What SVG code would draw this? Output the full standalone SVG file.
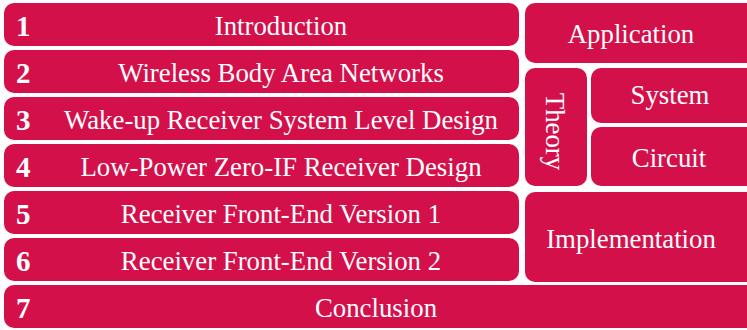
<svg xmlns="http://www.w3.org/2000/svg" width="747" height="330" viewBox="0 0 747 330">
  <style>
    .box { fill: #D4104B; }
    .t { font-family: "Liberation Serif", "Times New Roman", serif; font-size: 26.8px; fill: #ffffff; text-anchor: middle; }
    .n { font-family: "Liberation Serif", "Times New Roman", serif; font-size: 29px; font-weight: bold; fill: #ffffff; }
  </style>
  <rect width="747" height="330" fill="#ffffff"/>

  <!-- Chapter rows -->
  <g id="ch1"><rect class="box" x="4" y="3" width="515" height="43" rx="10"/><text class="n" x="16" y="36">1</text><text class="t" x="281" y="35">Introduction</text></g>
  <g id="ch2"><rect class="box" x="4" y="50" width="515" height="43" rx="10"/><text class="n" x="16" y="83">2</text><text class="t" x="281" y="82">Wireless Body Area Networks</text></g>
  <g id="ch3"><rect class="box" x="4" y="97" width="515" height="43" rx="10"/><text class="n" x="16" y="130">3</text><text class="t" x="281" y="129">Wake-up Receiver System Level Design</text></g>
  <g id="ch4"><rect class="box" x="4" y="144" width="515" height="43" rx="10"/><text class="n" x="16" y="177">4</text><text class="t" x="281" y="176">Low-Power Zero-IF Receiver Design</text></g>
  <g id="ch5"><rect class="box" x="4" y="191" width="515" height="43" rx="10"/><text class="n" x="16" y="224">5</text><text class="t" x="281" y="223">Receiver Front-End Version 1</text></g>
  <g id="ch6"><rect class="box" x="4" y="238" width="515" height="43" rx="10"/><text class="n" x="16" y="271">6</text><text class="t" x="281" y="270">Receiver Front-End Version 2</text></g>
  <g id="ch7"><rect class="box" x="4" y="285" width="760" height="43" rx="10"/><text class="n" x="16" y="318">7</text><text class="t" x="376" y="317">Conclusion</text></g>

  <!-- Category blocks -->
  <g id="application"><rect class="box" x="525" y="3" width="240" height="60" rx="10"/><text class="t" x="631" y="43">Application</text></g>
  <g id="theory"><rect class="box" x="525" y="68" width="62" height="118" rx="10"/><text class="t" transform="translate(546,131.5) rotate(90)">Theory</text></g>
  <g id="system"><rect class="box" x="591" y="68" width="170" height="55" rx="10"/><text class="t" x="670" y="104">System</text></g>
  <g id="circuit"><rect class="box" x="591" y="127" width="170" height="59" rx="10"/><text class="t" x="669" y="166.5">Circuit</text></g>
  <g id="implementation"><rect class="box" x="525" y="192" width="240" height="90" rx="10"/><text class="t" x="631" y="248">Implementation</text></g>

  <g id="connectors"/>
</svg>
